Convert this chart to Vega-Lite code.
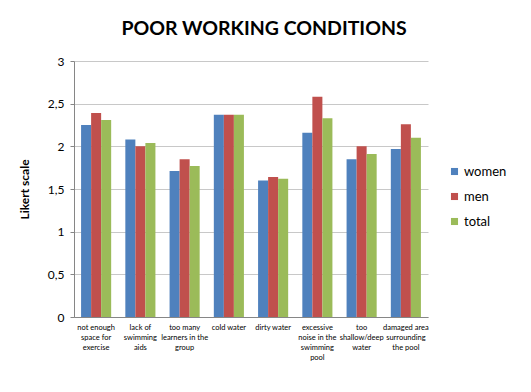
{
  "$schema": "https://vega.github.io/schema/vega-lite/v6.json",
  "width": 354,
  "height": 256,
  "autosize": "none",
  "padding": {"left": 74, "top": 61, "right": 103, "bottom": 75},
  "background": "white",
  "title": {"text": "POOR WORKING CONDITIONS", "font": "Lato", "fontSize": 19.5, "fontWeight": "bold", "color": "#000000", "anchor": "middle", "dx": 13, "offset": 16},
  "data": {"values": [
    {"c": "not enough|space for|exercise", "g": "women", "v": 2.25},
    {"c": "not enough|space for|exercise", "g": "men", "v": 2.39},
    {"c": "not enough|space for|exercise", "g": "total", "v": 2.31},
    {"c": "lack of|swimming|aids", "g": "women", "v": 2.08},
    {"c": "lack of|swimming|aids", "g": "men", "v": 2.0},
    {"c": "lack of|swimming|aids", "g": "total", "v": 2.04},
    {"c": "too many|learners in the|group", "g": "women", "v": 1.71},
    {"c": "too many|learners in the|group", "g": "men", "v": 1.85},
    {"c": "too many|learners in the|group", "g": "total", "v": 1.77},
    {"c": "cold water", "g": "women", "v": 2.37},
    {"c": "cold water", "g": "men", "v": 2.37},
    {"c": "cold water", "g": "total", "v": 2.37},
    {"c": "dirty water", "g": "women", "v": 1.6},
    {"c": "dirty water", "g": "men", "v": 1.64},
    {"c": "dirty water", "g": "total", "v": 1.62},
    {"c": "excessive|noise in the|swimming|pool", "g": "women", "v": 2.16},
    {"c": "excessive|noise in the|swimming|pool", "g": "men", "v": 2.58},
    {"c": "excessive|noise in the|swimming|pool", "g": "total", "v": 2.33},
    {"c": "too|shallow/deep|water", "g": "women", "v": 1.85},
    {"c": "too|shallow/deep|water", "g": "men", "v": 2.0},
    {"c": "too|shallow/deep|water", "g": "total", "v": 1.91},
    {"c": "damaged area|surrounding|the pool", "g": "women", "v": 1.97},
    {"c": "damaged area|surrounding|the pool", "g": "men", "v": 2.26},
    {"c": "damaged area|surrounding|the pool", "g": "total", "v": 2.1}
  ]},
  "mark": {"type": "bar"},
  "encoding": {
    "x": {"field": "c", "type": "nominal", "sort": null,
      "scale": {"paddingInner": 0.32, "paddingOuter": 0.16},
      "axis": {"title": null, "labelAngle": 0, "labelExpr": "split(datum.label, '|')", "labelFont": "Lato", "labelFontSize": 7.5, "labelColor": "#000000", "labelLineHeight": 10, "labelPadding": 6, "ticks": false, "domainColor": "#868686", "labelLimit": 0, "labelBaseline": "top"}},
    "xOffset": {"field": "g", "type": "nominal", "sort": ["women", "men", "total"]},
    "y": {"field": "v", "type": "quantitative",
      "scale": {"domain": [0, 3]},
      "axis": {"title": "Likert scale", "titleFont": "Lato", "titleFontSize": 12, "titleFontWeight": "bold", "titleColor": "#000000", "titlePadding": 16,
        "values": [0, 0.5, 1, 1.5, 2, 2.5, 3], "labelExpr": "replace(toString(datum.value), '.', ',')", "labelFont": "Lato", "labelFontSize": 12, "labelColor": "#000000", "labelPadding": 6,
        "gridColor": "#C8C8C8", "domainColor": "#868686", "tickColor": "#868686", "tickSize": 4}},
    "color": {"field": "g", "type": "nominal", "sort": ["women", "men", "total"],
      "scale": {"domain": ["women", "men", "total"], "range": ["#4F81BD", "#C0504D", "#9BBB59"]},
      "legend": {"title": null, "orient": "none", "legendX": 374, "legendY": 104, "symbolType": "square", "symbolSize": 50, "symbolStrokeWidth": 0, "labelFont": "Lato", "labelFontSize": 13, "labelColor": "#000000", "rowPadding": 11, "labelOffset": 3}}
  },
  "config": {"view": {"stroke": null}, "axis": {"gridWidth": 1}}
}
